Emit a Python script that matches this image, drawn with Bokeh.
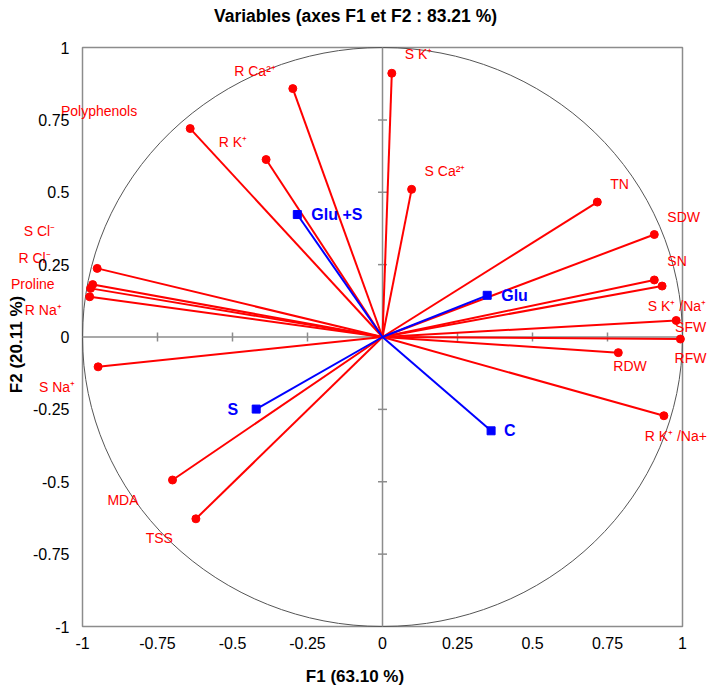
import math
from bokeh.plotting import figure
from bokeh.models import Range1d, FixedTicker, ColumnDataSource
from bokeh.core.properties import value
from bokeh.embed import file_html
from bokeh.resources import INLINE

# ---------------- data ----------------
variables = ["S K⁺", "R Ca²⁺", "Polyphenols", "R K⁺", "S Ca²⁺", "TN", "SDW", "SN",
             "S K⁺ /Na⁺", "SFW", "RFW", "RDW", "R K⁺ /Na+", "S Cl⁻", "R Cl⁻",
             "Proline", "R Na⁺", "S Na⁺", "MDA", "TSS"]
var_f1 = [0.031, -0.299, -0.641, -0.388, 0.097, 0.716, 0.906, 0.906,
          0.932, 0.979, 0.993, 0.786, 0.938, -0.951, -0.966,
          -0.973, -0.976, -0.948, -0.700, -0.622]
var_f2 = [0.911, 0.858, 0.720, 0.613, 0.510, 0.466, 0.354, 0.197,
          0.176, 0.057, -0.007, -0.054, -0.272, 0.237, 0.181,
          0.168, 0.139, -0.103, -0.494, -0.628]

treatments = ["Glu +S", "Glu", "C", "S"]
trt_f1 = [-0.284, 0.349, 0.362, -0.421]
trt_f2 = [0.423, 0.144, -0.324, -0.249]

tick_values = [-1, -0.75, -0.5, -0.25, 0, 0.25, 0.5, 0.75, 1]
tick_labels = ["-1", "-0.75", "-0.5", "-0.25", "0", "0.25", "0.5", "0.75", "1"]
inner_ticks = [-0.75, -0.5, -0.25, 0.25, 0.5, 0.75]

title_text = "Variables (axes F1 et F2 : 83.21 %)"
x_label = "F1 (63.10 %)"
y_label = "F2 (20.11 %)"

# ---------------- layout (figure pixels) ----------------
FIG_W, FIG_H = 709, 688
BOX_L, BOX_R, BOX_T, BOX_B = 82, 682, 47, 626
TITLE_CX, TITLE_CY = 355, 15

# label placement (screen pixels, dy positive = down)
var_dx = [13, -17, -53, -19, 13, 13, 13, 13,
          44, 30, 26, -5, 43, -42, -42,
          -36, -28, -23, -34, -23]
var_dy = [-19, -18, -18, -18, -18, -18, -18, -19,
          20, 7, 19, 13, 20, -37, -27,
          -4, 13, 20, 20, 19]
var_align = ["left", "right", "right", "right", "left", "left", "left", "left",
             "right", "right", "right", "left", "right", "right", "right",
             "right", "right", "right", "right", "right"]
trt_dx = [14, 14, 13, -18]
trt_align = ["left", "left", "left", "right"]

FONT = "Liberation Sans"
RED = "#ff0000"
BLUE = "#0000ff"
GRAY = "#8c8c8c"

lo, hi = tick_values[0], tick_values[-1]
sx = (BOX_R - BOX_L) / (hi - lo)
sy = (BOX_B - BOX_T) / (hi - lo)
x_range = Range1d(lo - BOX_L / sx, hi + (FIG_W - BOX_R) / sx)
y_range = Range1d(lo - (FIG_H - BOX_B) / sy, hi + BOX_T / sy)


def px_to_x(px):
    return x_range.start + px / sx


def py_to_y(py):
    return y_range.end - py / sy


p = figure(width=FIG_W, height=FIG_H, output_backend="svg", toolbar_location=None,
           x_range=x_range, y_range=y_range, title=None,
           min_border_left=0, min_border_right=0, min_border_top=0, min_border_bottom=0)

p.background_fill_color = "white"
p.border_fill_color = "white"
p.outline_line_color = None
p.grid.visible = False

for ax, lab in ((p.xaxis[0], x_label), (p.yaxis[0], y_label)):
    ax.fixed_location = lo
    ax.ticker = FixedTicker(ticks=tick_values)
    ax.major_label_overrides = {v: t for v, t in zip(tick_values, tick_labels)}
    ax.axis_label = lab
    ax.axis_label_text_font = FONT
    ax.axis_label_text_font_size = "17px"
    ax.axis_label_text_font_style = "bold"
    ax.axis_label_text_color = "#000000"
    ax.major_label_text_font = FONT
    ax.major_label_text_font_size = "16px"
    ax.major_label_text_color = "#000000"
    ax.major_tick_line_color = None
    ax.minor_tick_line_color = None
    ax.major_tick_out = 0
    ax.major_tick_in = 0
    ax.axis_line_color = None
p.xaxis.major_label_standoff = 10
p.xaxis.axis_label_standoff = 15
p.yaxis.major_label_standoff = 13
p.yaxis.axis_label_standoff = 4

# title
p.text(x=[px_to_x(TITLE_CX)], y=[py_to_y(TITLE_CY)], text=[title_text],
       text_align="center", text_baseline="middle", text_font=value(FONT),
       text_font_size="17.5px", text_font_style="bold", text_color="#000000")

# frame box
p.quad(left=lo, right=hi, bottom=lo, top=hi, fill_color=None,
       line_color=GRAY, line_width=1.5)

# correlation circle
p.ellipse(x=0, y=0, width=hi - lo, height=hi - lo, fill_color=None,
          line_color="#555555", line_width=1)

# zero axes with ticks
p.segment(x0=[lo, 0], y0=[0, lo], x1=[hi, 0], y1=[0, hi], line_color=GRAY, line_width=1.5)
p.scatter(x=inner_ticks, y=[0] * len(inner_ticks), marker="dash", angle=math.pi / 2,
          size=9, line_color=GRAY, line_width=1.5)
p.scatter(x=[0] * len(inner_ticks), y=inner_ticks, marker="dash", angle=0,
          size=9, line_color=GRAY, line_width=1.5)

# variable vectors
p.segment(x0=[0] * len(var_f1), y0=[0] * len(var_f1), x1=var_f1, y1=var_f2,
          line_color=RED, line_width=2)
p.scatter(x=var_f1, y=var_f2, marker="circle", size=8, fill_color=RED, line_color=RED)

# treatment vectors
p.segment(x0=[0] * len(trt_f1), y0=[0] * len(trt_f1), x1=trt_f1, y1=trt_f2,
          line_color=BLUE, line_width=2)
p.scatter(x=trt_f1, y=trt_f2, marker="square", size=8, fill_color=BLUE, line_color=BLUE)

# labels
for align in ("left", "right"):
    idx = [i for i, a in enumerate(var_align) if a == align]
    src = ColumnDataSource(dict(x=[var_f1[i] for i in idx], y=[var_f2[i] for i in idx],
                                t=[variables[i] for i in idx],
                                dx=[var_dx[i] for i in idx], dy=[var_dy[i] for i in idx]))
    p.text(x="x", y="y", text="t", x_offset="dx", y_offset="dy", source=src,
           text_align=align, text_baseline="middle", text_font=value(FONT),
           text_font_size="14px", text_color=RED)
    idx = [i for i, a in enumerate(trt_align) if a == align]
    src = ColumnDataSource(dict(x=[trt_f1[i] for i in idx], y=[trt_f2[i] for i in idx],
                                t=[treatments[i] for i in idx],
                                dx=[trt_dx[i] for i in idx]))
    p.text(x="x", y="y", text="t", x_offset="dx", source=src,
           text_align=align, text_baseline="middle", text_font=value(FONT),
           text_font_size="16px", text_font_style="bold", text_color=BLUE)

open("out.html", "w").write(file_html(p, INLINE))
